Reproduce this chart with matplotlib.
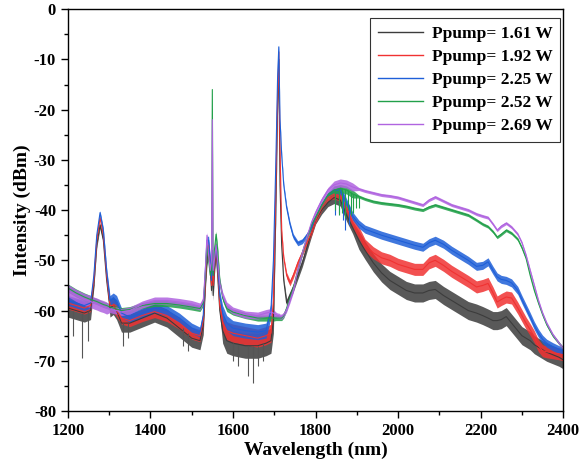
import numpy as np
import matplotlib
matplotlib.use("Agg")
import matplotlib.pyplot as plt
from matplotlib.ticker import MultipleLocator

plt.rcParams["axes.unicode_minus"] = False

# wavelength grid (nm), shared by all five spectra
wavelength = [
    1200, 1220, 1240, 1255, 1263, 1270, 1278, 1286, 1294, 1302,
    1310, 1318, 1330, 1350, 1380, 1410, 1440, 1470, 1500, 1520,
    1528, 1533, 1537, 1541, 1545, 1548, 1550, 1552, 1555, 1559,
    1563, 1568, 1575, 1585, 1600, 1630, 1660, 1680, 1692, 1698,
    1704, 1708, 1711, 1714, 1718, 1723, 1730, 1738, 1746, 1757,
    1768, 1779, 1790, 1800, 1815, 1830, 1845, 1860, 1875, 1890,
    1905, 1920, 1940, 1960, 1980, 2000, 2020, 2040, 2060, 2075,
    2090, 2110, 2130, 2150, 2170, 2190, 2205, 2218, 2230, 2240,
    2250, 2262, 2275, 2290, 2300, 2310, 2320, 2330, 2340, 2350,
    2360, 2375, 2390, 2400,
]

p161 = [
    -59.5, -60, -60.5, -60, -55, -47, -43, -46, -54, -59.5,
    -59, -60, -62.5, -62.5, -61.5, -60.5, -61.5, -63.5, -65.5, -66,
    -63, -55, -50, -48, -52, -56, -50, -57, -52, -48,
    -53, -60, -64, -66, -66.5, -67, -67, -66.5, -66, -62,
    -40, -20, -10, -35, -47, -54, -58.5, -57, -55.5, -53,
    -50.5, -47.5, -44.5, -42, -40, -38.5, -37.5, -38, -41, -43.5,
    -46, -48, -50.5, -52.5, -54, -55, -56, -56.5, -56.5, -56,
    -55.8, -57, -58, -59, -60, -60.5, -61, -61.5, -62, -62,
    -61.8, -61.2, -62.5, -64, -65, -65.5, -66, -66.8, -67.3, -67.8,
    -68.3, -68.8, -69.3, -69.8,
]
p192 = [
    -58.5, -59, -59.5, -59, -54, -46, -41.5, -45, -53, -59,
    -59, -60, -61.5, -62, -61, -60.2, -61, -62.5, -64.5, -65,
    -62, -54, -48, -47, -51, -55, -49, -55, -51, -47,
    -52, -59, -62.5, -64, -64.5, -65, -65.5, -65, -64.5, -58,
    -35, -18, -8.5, -28, -44, -49.5, -53, -54.5, -53, -50.5,
    -48.5, -46.5, -44.5, -42, -39.5, -37.5, -36.8, -37.2, -39.5, -42.5,
    -44.5, -47, -48.5, -49.5, -50, -50.8, -51.3, -51.8, -51.8, -50.5,
    -50, -51, -52.2, -53.2, -54.2, -55.3, -55, -54.6, -56.5, -58.3,
    -57.8, -57.3, -57.5, -59.5, -61, -62.5, -63.8, -65.2, -67, -68,
    -68.2, -68.4, -68.6, -68.8,
]
p225 = [
    -58, -58.5, -59, -58.5, -53, -45, -40.5, -44, -52, -58,
    -57.5, -58, -60.5, -61.3, -60.5, -59.5, -60, -61.5, -63.5, -64.3,
    -61, -52, -46, -46, -50, -54, -48, -53, -50, -47,
    -51, -57, -60.5, -62.5, -63.5, -64, -64.3, -64, -60, -50,
    -30, -14, -7.5, -22, -29, -35, -39.5, -42.8, -45.2, -46.6,
    -46.2, -45, -43.5, -41.5, -39, -37, -36, -36, -38.5, -41.2,
    -42.8, -43.8, -44.4, -45, -45.5, -46, -46.5, -47, -47.4, -46.5,
    -46, -46.8, -48, -49, -50, -51.2, -51, -50.3, -52, -53.3,
    -53.8, -54, -54.5, -56, -57.8, -59.5, -61.2, -63, -64.5, -65.7,
    -66.5, -67.2, -67.8, -68,
]
p252 = [
    -55.5, -56.5, -57.3, -57.8, -58, -58.2, -58.5, -58.8, -59, -59.3,
    -59.5, -59.7, -60, -59.8, -59, -58.6, -58.6, -58.9, -59.3, -59.6,
    -58.5, -53, -47, -50, -53, -52, -16, -53, -48, -44.8,
    -48, -54, -57.5, -59.6, -60.3, -61, -61.5, -61.5, -61.5, -61.5,
    -61.5, -61.5, -61.5, -61.5, -61.5, -61, -59.5, -57.5, -55.5, -52,
    -48.5, -45.5, -43, -41.5, -39, -37, -36, -35.7, -36, -36.8,
    -37.3, -37.8, -38.3, -38.6, -38.8, -39, -39.3, -39.7, -40, -39.4,
    -39, -39.5, -40, -40.5, -41, -42, -42.8, -43.3, -44.3, -45.4,
    -44.8, -44, -44.6, -45.8, -47.5, -49.6, -53, -56, -58.5, -60.8,
    -62.8, -65, -66.5, -67.5,
]
p269 = [
    -56, -57, -57.8, -58.2, -58.5, -58.7, -59, -59.2, -59.5, -59.7,
    -59.9, -60, -60.3, -60, -58.8, -58, -58, -58.3, -58.7, -59.2,
    -58, -52, -45, -49, -52, -50, -22, -52, -50, -47,
    -50, -54.5, -57, -59, -60, -60.8, -61, -60.5, -60.3, -60.5,
    -60.8, -61, -61, -61.2, -61.2, -60.8, -59.8, -58, -56, -52,
    -48.5, -45.4, -42.5, -40.5, -38, -36, -35, -34.6, -34.8, -35.4,
    -35.8, -36.2, -36.6, -37, -37.2, -37.5, -38, -38.5, -39, -38,
    -37.4, -38.2, -39, -39.5, -40, -40.8, -41.2, -41.5, -42.8, -44,
    -43.2, -42.6, -43.4, -44.8, -46.5, -49, -52, -55, -58, -60.5,
    -62.5, -64.8, -66.5, -67.5,
]

labels = ["Ppump= 1.61 W", "Ppump= 1.92 W", "Ppump= 2.25 W",
          "Ppump= 2.52 W", "Ppump= 2.69 W"]
colors = ["#3c3c3c", "#f03232", "#1e5fd8", "#22a04a", "#b064e0"]

# noise half-width (dB) per wavelength band
noise_edges = [1200, 1260, 1300, 1530, 1570, 1700, 1730, 1840, 1900, 2401]
noise_161 = [1.8, 0.5, 1.8, 1.0, 2.5, 0.5, 0.8, 1.2, 1.8]
noise_192 = [1.2, 0.4, 1.2, 0.8, 1.8, 0.4, 0.6, 1.0, 1.2]
noise_225 = [1.0, 0.4, 1.0, 0.8, 1.5, 0.4, 0.5, 0.8, 0.8]
noise_252 = [0.8, 0.6, 0.6, 0.6, 0.6, 0.5, 0.5, 0.8, 0.3]
noise_269 = [1.2, 1.2, 0.7, 0.6, 0.7, 0.5, 0.5, 0.8, 0.3]

# isolated downward spikes (x, top, bottom)
spikes_161_x = [1212, 1235, 1248, 1333, 1345, 1480, 1491, 1600, 1612, 1636, 1648, 1660, 1672]
spikes_161_top = [-60, -60.5, -60, -62.5, -62.5, -63.5, -64.5, -66.5, -66.8, -67, -67, -67, -66.5]
spikes_161_bot = [-65, -69.5, -66, -67, -65.5, -67, -68, -70, -71, -73, -74.5, -71, -70]
spikes_252_x = [1848, 1856, 1864, 1871, 1878, 1885, 1892, 1899, 1906]
spikes_252_top = [-36, -35.8, -35.7, -35.8, -36, -36.3, -36.8, -37, -37.3]
spikes_252_bot = [-40, -41, -40.5, -41.5, -40, -41, -40.5, -39.5, -39.5]
spikes_225_x = [1846, 1858, 1866, 1871, 1880]
spikes_225_top = [-36, -36, -36.5, -37, -39]
spikes_225_bot = [-41, -40.5, -42, -44, -43]

series = [p161, p192, p225, p252, p269]
noises = [noise_161, noise_192, noise_225, noise_252, noise_269]

w = np.array(wavelength)
fig = plt.figure(figsize=(5.8, 4.7), dpi=100)
ax = fig.add_axes([0.117, 0.1255, 0.854, 0.855])

for y, nz, c, lab in zip(series, noises, colors, labels):
    y = np.array(y)
    idx = np.clip(np.searchsorted(noise_edges, w, side="right") - 1, 0, len(nz) - 1)
    half = np.array(nz)[idx]
    ax.fill_between(w, y - half, y + half, color=c, lw=0, alpha=0.85)
    ax.plot(w, y, color=c, lw=0.8, label=lab)

ax.vlines(spikes_161_x, spikes_161_bot, spikes_161_top, color="#555555", lw=0.8)
ax.vlines(spikes_225_x, spikes_225_bot, spikes_225_top, color=colors[2], lw=0.8)
ax.vlines(spikes_252_x, spikes_252_bot, spikes_252_top, color=colors[3], lw=0.8)

ax.set_xlim(1200, 2400)
ax.set_ylim(-80, 0)
ax.xaxis.set_major_locator(MultipleLocator(200))
ax.xaxis.set_minor_locator(MultipleLocator(100))
ax.yaxis.set_major_locator(MultipleLocator(10))
ax.yaxis.set_minor_locator(MultipleLocator(5))
ax.tick_params(which="major", direction="out", length=5, width=1, top=False, right=False)
ax.tick_params(which="minor", direction="out", length=3, width=1, top=False, right=False)

font = "Liberation Serif"
for t in ax.get_xticklabels() + ax.get_yticklabels():
    t.set_fontfamily(font)
    t.set_fontweight("bold")
    t.set_fontsize(12)
ax.set_xlabel("Wavelength (nm)", fontfamily=font, fontweight="bold", fontsize=14, labelpad=2)
ax.set_ylabel("Intensity (dBm)", fontfamily=font, fontweight="bold", fontsize=14, labelpad=2)
for s in ax.spines.values():
    s.set_linewidth(1.0)

leg = ax.legend(loc="upper right", bbox_to_anchor=(0.994, 0.978), borderaxespad=0,
                prop={"family": font, "weight": "bold", "size": 12.5},
                frameon=True, fancybox=False, edgecolor="black",
                handlelength=2.6, borderpad=0.45, labelspacing=0.4, handletextpad=0.5)
leg.get_frame().set_linewidth(0.8)
for h in leg.get_lines():
    h.set_linewidth(1.0)

fig.savefig("out.png", dpi=100)
